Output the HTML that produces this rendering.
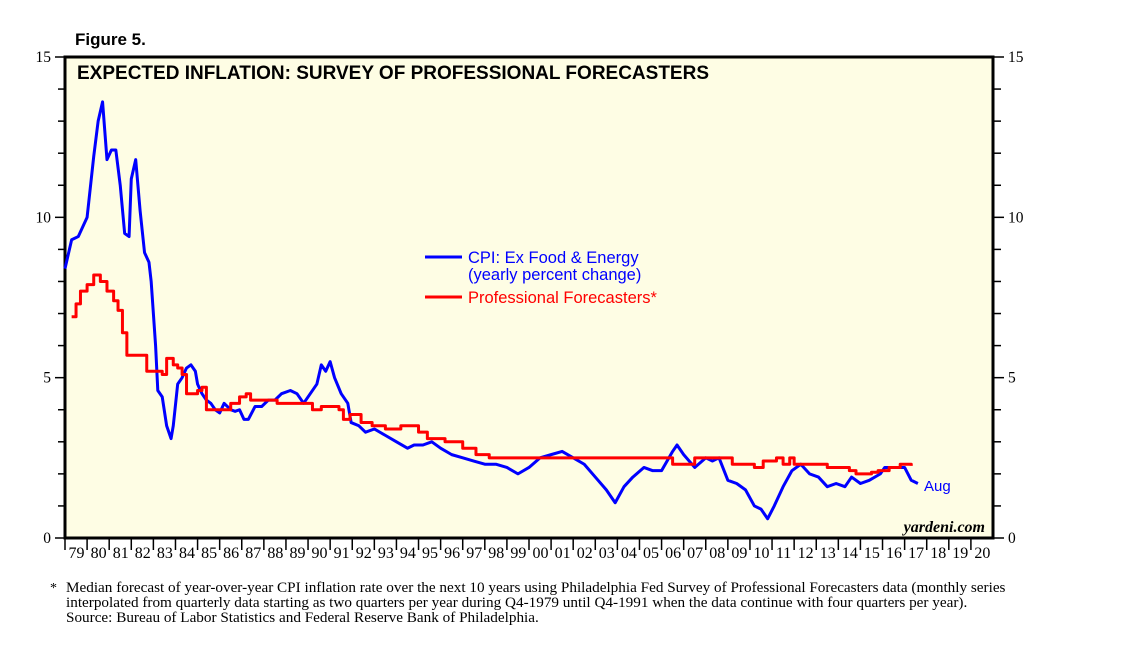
<!DOCTYPE html>
<html><head><meta charset="utf-8"><style>
body{margin:0;background:#fff;width:1138px;height:645px;overflow:hidden;}
svg{display:block}
</style></head><body>
<svg id="chart" width="1138" height="645" xmlns="http://www.w3.org/2000/svg">
<text x="75" y="45" font-family="Liberation Sans, sans-serif" font-weight="bold" font-size="17">Figure 5.</text>
<rect x="65" y="57" width="928" height="481" fill="#fefde4" stroke="#000" stroke-width="3"/>
<text x="77" y="79" font-family="Liberation Sans, sans-serif" font-weight="bold" font-size="19">EXPECTED INFLATION: SURVEY OF PROFESSIONAL FORECASTERS</text>
<g id="axes"></g>
<g id="series"></g>
<line x1="425" y1="257" x2="462" y2="257" stroke="#0000ff" stroke-width="3"/>
<text x="468" y="263" font-family="Liberation Sans, sans-serif" font-size="16.5" fill="#0000ff">CPI: Ex Food &amp; Energy</text>
<text x="468" y="280" font-family="Liberation Sans, sans-serif" font-size="16.5" fill="#0000ff">(yearly percent change)</text>
<line x1="425" y1="297" x2="462" y2="297" stroke="#ff0000" stroke-width="3"/>
<text x="468" y="303" font-family="Liberation Sans, sans-serif" font-size="16.5" fill="#ff0000">Professional Forecasters*</text>
<text x="924" y="491" font-family="Liberation Sans, sans-serif" font-size="15" fill="#0000ff">Aug</text>
<text x="985" y="532" text-anchor="end" font-family="Liberation Serif, serif" font-style="italic" font-weight="bold" font-size="16">yardeni.com</text>
<text x="50" y="592" font-family="Liberation Serif, serif" font-size="14">*</text>
<text x="66" y="592" font-family="Liberation Serif, serif" font-size="15.2">Median forecast of year-over-year CPI inflation rate over the next 10 years using Philadelphia Fed Survey of Professional Forecasters data (monthly series</text>
<text x="66" y="607" font-family="Liberation Serif, serif" font-size="15.2">interpolated from quarterly data starting as two quarters per year during Q4-1979 until Q4-1991 when the data continue with four quarters per year).</text>
<text x="66" y="622" font-family="Liberation Serif, serif" font-size="15.2">Source: Bureau of Labor Statistics and Federal Reserve Bank of Philadelphia.</text>
</svg>
<script>
const yTicks=[0,5,10,15];
const yearLabels=["79","80","81","82","83","84","85","86","87","88","89","90","91","92","93","94","95","96","97","98","99","00","01","02","03","04","05","06","07","08","09","10","11","12","13","14","15","16","17","18","19","20"];
const cpiYears=[1979.0,1979.3,1979.6,1980.0,1980.3,1980.5,1980.7,1980.9,1981.1,1981.3,1981.5,1981.7,1981.9,1982.0,1982.2,1982.4,1982.6,1982.8,1982.9,1983.1,1983.2,1983.4,1983.6,1983.8,1983.9,1984.1,1984.3,1984.5,1984.7,1984.9,1985.0,1985.2,1985.4,1985.6,1985.8,1986.0,1986.2,1986.5,1986.7,1986.9,1987.1,1987.3,1987.6,1987.9,1988.2,1988.5,1988.8,1989.2,1989.5,1989.8,1990.1,1990.4,1990.6,1990.8,1991.0,1991.2,1991.5,1991.8,1991.95,1992.3,1992.6,1993.0,1993.5,1994.0,1994.5,1994.8,1995.2,1995.6,1996.0,1996.5,1997.0,1997.5,1998.0,1998.5,1999.0,1999.5,2000.0,2000.5,2001.0,2001.5,2002.0,2002.5,2003.0,2003.5,2003.9,2004.3,2004.7,2005.2,2005.6,2006.0,2006.5,2006.7,2007.0,2007.5,2008.0,2008.3,2008.6,2009.0,2009.4,2009.8,2010.2,2010.5,2010.8,2011.1,2011.5,2011.9,2012.3,2012.7,2013.1,2013.5,2013.9,2014.3,2014.6,2015.0,2015.4,2015.9,2016.1,2016.4,2016.8,2017.0,2017.3,2017.6];
const cpiValues=[8.4,9.3,9.4,10.0,11.9,13.0,13.6,11.8,12.1,12.1,11.0,9.5,9.4,11.2,11.8,10.2,8.9,8.6,8.0,6.0,4.6,4.4,3.5,3.1,3.5,4.8,5.0,5.3,5.4,5.2,4.8,4.5,4.3,4.2,4.0,3.9,4.2,4.0,3.95,4.0,3.7,3.7,4.1,4.1,4.3,4.3,4.5,4.6,4.5,4.2,4.5,4.8,5.4,5.2,5.5,5.0,4.5,4.2,3.6,3.5,3.3,3.4,3.2,3.0,2.8,2.9,2.9,3.0,2.8,2.6,2.5,2.4,2.3,2.3,2.2,2.0,2.2,2.5,2.6,2.7,2.5,2.3,1.9,1.5,1.1,1.6,1.9,2.2,2.1,2.1,2.7,2.9,2.6,2.2,2.5,2.4,2.5,1.8,1.7,1.5,1.0,0.9,0.6,1.0,1.6,2.1,2.3,2.0,1.9,1.6,1.7,1.6,1.9,1.7,1.8,2.0,2.2,2.2,2.2,2.2,1.8,1.7];
const spfYears=[1979.3,1979.5,1979.7,1980.0,1980.3,1980.6,1980.9,1981.2,1981.4,1981.6,1981.8,1982.5,1982.7,1983.4,1983.6,1983.9,1984.1,1984.3,1984.5,1985.0,1985.2,1985.4,1986.3,1986.5,1986.9,1987.2,1987.4,1988.5,1988.6,1990.0,1990.2,1990.6,1991.4,1991.6,1991.9,1992.4,1992.9,1993.5,1994.2,1995.0,1995.4,1996.2,1997.0,1997.6,1998.2,2001.5,2006.4,2006.5,2007.0,2007.5,2009.0,2009.2,2009.9,2010.2,2010.6,2011.2,2011.5,2011.8,2012.0,2013.2,2013.5,2014.5,2014.8,2015.5,2015.8,2016.3,2016.8,2017.3];
const spfValues=[6.9,7.3,7.7,7.9,8.2,8.0,7.7,7.4,7.1,6.4,5.7,5.7,5.2,5.1,5.6,5.4,5.3,5.1,4.5,4.6,4.7,4.0,4.0,4.2,4.4,4.5,4.3,4.3,4.2,4.2,4.0,4.1,4.0,3.7,3.85,3.6,3.5,3.4,3.5,3.3,3.1,3.0,2.8,2.6,2.5,2.5,2.5,2.3,2.3,2.5,2.5,2.3,2.3,2.2,2.4,2.5,2.3,2.5,2.3,2.3,2.2,2.1,2.0,2.05,2.1,2.2,2.3,2.25];
const NS='http://www.w3.org/2000/svg';
const L=65,R=993,T=57,B=538;
const xS=y=>L+(y-1979)*(R-L)/42;
const yS=v=>B-v*(B-T)/15;
function mk(tag,attrs,parent){const e=document.createElementNS(NS,tag);for(const k in attrs)e.setAttribute(k,attrs[k]);parent.appendChild(e);return e;}
const ax=document.getElementById('axes');
for(let v=0;v<=15;v++){
  const major=v%5===0;
  const t1=mk('line',{x1:major?55:58,x2:L,y1:yS(v),y2:yS(v),stroke:'#000','stroke-width':1.5},ax);
  
  
  const t2=mk('line',{x1:R,x2:major?1004:1001,y1:yS(v),y2:yS(v),stroke:'#000','stroke-width':1.5},ax);
  
  
}
yTicks.forEach(v=>{
  const a=mk('text',{x:51,y:yS(v)+5,'text-anchor':'end','font-family':'Liberation Serif, serif','font-size':15.5},ax);a.textContent=v;
  
  
  const b=mk('text',{x:1008,y:yS(v)+5,'font-family':'Liberation Serif, serif','font-size':15.5},ax);b.textContent=v;
  
  
});
yearLabels.forEach((lab,i)=>{
  const x0=xS(1979+i);
  const t=mk('line',{x1:x0,x2:x0,y1:B,y2:B+12,stroke:'#000','stroke-width':1.5},ax);
  
  
  const tx=mk('text',{x:x0+11.5,y:B+20,'text-anchor':'middle','font-family':'Liberation Serif, serif','font-size':16},ax);tx.textContent=lab;
  
  
});
const sg=document.getElementById('series');
const cpi=mk('polyline',{points:cpiYears.map((y,i)=>xS(y)+','+yS(cpiValues[i])).join(' '),fill:'none',stroke:'#0000ff','stroke-width':3,'stroke-linejoin':'round'},sg);


let pts=[];
spfYears.forEach((y,i)=>{ if(i>0) pts.push(xS(y)+','+yS(spfValues[i-1])); pts.push(xS(y)+','+yS(spfValues[i])); });
const spf=mk('polyline',{points:pts.join(' '),fill:'none',stroke:'#ff0000','stroke-width':3,'stroke-linejoin':'round'},sg);


</script>
</body></html>
